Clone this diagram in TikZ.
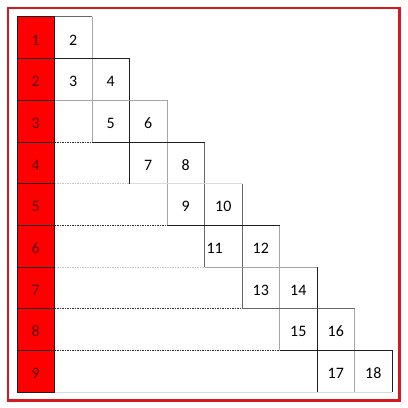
\documentclass[tikz,border=0pt]{standalone}
\usepackage{fontspec}
\setmainfont{Carlito}
\definecolor{darkred}{RGB}{95,0,0}
\definecolor{bordred}{RGB}{215,25,30}
\definecolor{cellred}{RGB}{255,0,0}
\begin{document}
\begin{tikzpicture}[x=37.5bp, y=-41.6667bp,
  darkline/.style={line width=1bp, draw=black!88},
  medline/.style={line width=1bp, draw=black!60},
  lightline/.style={line width=1bp, draw=black!35},
  faintline/.style={line width=1bp, draw=black!14},
  dotline/.style={line width=0.8bp, draw=black!80, dash pattern=on 1.5bp off 1bp},
  faintdot/.style={line width=0.8bp, draw=black!22, dash pattern=on 1.5bp off 1bp},
  num/.style={font=\fontsize{16}{17}\selectfont, inner sep=0pt, anchor=center},
  rednum/.style={num, text=darkred}]
\useasboundingbox (-0.45333,-0.408) rectangle (10.42667,9.384);
\fill[white] (-0.45333,-0.408) rectangle (10.42667,9.384);
% outer red frame
\draw[line width=2.5bp, draw=bordred] (-0.24,-0.21) rectangle (10.2,9.2);
% red column
\fill[cellred] (0,0) rectangle (1,9);
% vertical lines
\draw[darkline] (0,0) -- (0,9);
\draw[darkline] (1,0) -- (1,9);
\draw[lightline] (2,0) -- (2,3);
\draw[darkline] (3,1) -- (3,4);
\draw[lightline] (4,2) -- (4,5);
\draw[medline] (5,3) -- (5,6);
\draw[medline] (6,4) -- (6,7);
\draw[lightline] (7,5) -- (7,8);
\draw[darkline] (8,6) -- (8,9);
\draw[lightline] (9,7) -- (9,9);
\draw[darkline] (10,8) -- (10,9);
% horizontal lines across red column
\foreach \r in {0,...,9} {\draw[darkline] (0,\r) -- (1,\r);}
% horizontal lines
\draw[medline] (1,0) -- (2,0);
\draw[darkline] (1,1) -- (3,1);
\draw[lightline] (1,2) -- (4,2);
\draw[dotline] (1,3) -- (2,3);
\draw[darkline] (2,3) -- (5,3);
\draw[faintdot] (1,4) -- (3,4);
\draw[faintline] (3,4) -- (6,4);
\draw[dotline] (1,5) -- (4,5);
\draw[darkline] (4,5) -- (7,5);
\draw[faintdot] (1,6) -- (5,6);
\draw[lightline] (5,6) -- (8,6);
\draw[dotline] (1,7) -- (6,7);
\draw[medline] (6,7) -- (9,7);
\draw[dotline] (1,8) -- (7,8);
\draw[darkline] (7,8) -- (10,8);
\draw[faintline] (1,9) -- (10,9);
% red column numbers
\foreach \i in {1,...,9} {\node[rednum] (r\i) at (0.5,\i-0.45) {\i};}
% cell numbers
\node[num] (n2) at (1.5,0.55) {2};
\node[num] (n3) at (1.5,1.55) {3};
\node[num] (n4) at (2.5,1.55) {4};
\node[num] (n5) at (2.5,2.55) {5};
\node[num] (n6) at (3.5,2.55) {6};
\node[num] (n7) at (3.5,3.55) {7};
\node[num] (n8) at (4.5,3.55) {8};
\node[num] (n9) at (4.5,4.55) {9};
\node[num] (n10) at (5.5,4.55) {10};
\node[num] (n11) at (5.27,5.55) {11};
\node[num] (n12) at (6.5,5.55) {12};
\node[num] (n13) at (6.5,6.55) {13};
\node[num] (n14) at (7.5,6.55) {14};
\node[num] (n15) at (7.5,7.55) {15};
\node[num] (n16) at (8.5,7.55) {16};
\node[num] (n17) at (8.5,8.55) {17};
\node[num] (n18) at (9.5,8.55) {18};
\end{tikzpicture}
\end{document}
